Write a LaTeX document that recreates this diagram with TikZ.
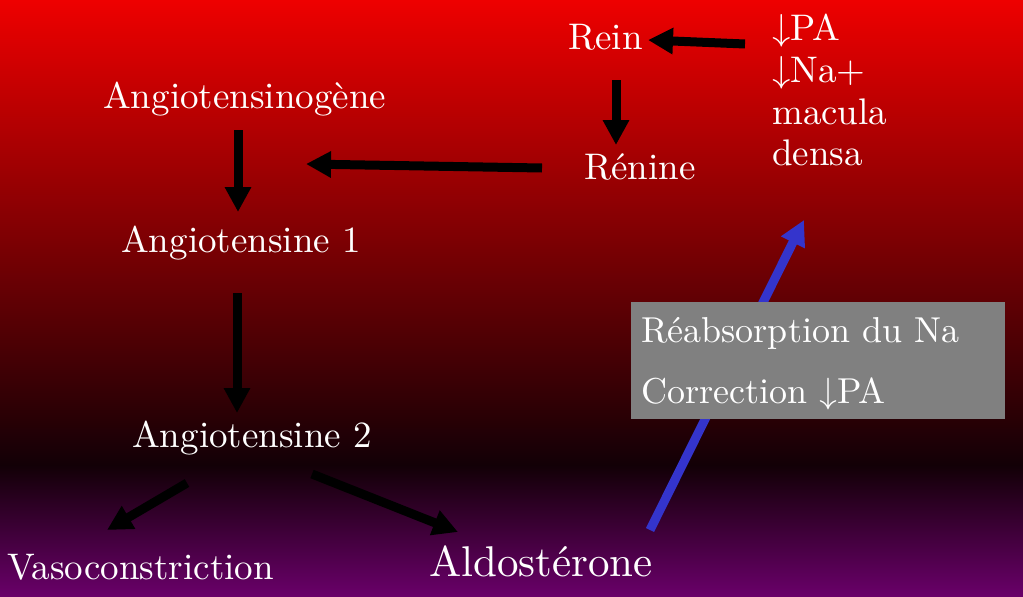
\documentclass[tikz,border=0pt]{standalone}
\usepackage{fontspec}
\usepackage{unicode-math}
\setmainfont{lmroman10-regular}[Extension=.otf]
\setmathfont{Latin Modern Math}
\usetikzlibrary{arrows.meta,calc}
\definecolor{topred}{RGB}{238,0,0}
\definecolor{midblack}{RGB}{18,0,6}
\definecolor{botpurple}{RGB}{106,0,106}
\definecolor{arrblue}{RGB}{52,52,204}
\definecolor{boxgray}{RGB}{128,128,128}
\tikzset{
  lbl/.style={text=white, anchor=base west, inner sep=0pt, font=\fontsize{37}{42}\selectfont},
  boxlbl/.style={lbl, font=\fontsize{36}{42}\selectfont},
  biglbl/.style={lbl, font=\fontsize{43}{50}\selectfont},
  arr/.style={line width=9pt, -{Triangle[length=25pt,width=25pt]}},
  blackarr/.style={arr, draw=black},
  bluearr/.style={arr, draw=arrblue},
  graybox/.style={fill=boxgray, draw=none, inner sep=0pt, minimum width=374pt, minimum height=117pt}
}
\begin{document}
\begin{tikzpicture}[x=1pt,y=-1pt]
\useasboundingbox (0,0) rectangle (1023,597);
\shade[top color=topred, bottom color=midblack] (0,0) rectangle (1023,466);
\shade[top color=midblack, bottom color=botpurple] (0,465) rectangle (1023,597);

% nodes
\node[lbl] (rein) at (568,49) {Rein};
\node[lbl] (pa) at (772,40) {$\downarrow$PA};
\node[lbl] (na) at (772,82) {$\downarrow$Na+};
\node[lbl] (mac) at (772,124) {macula};
\node[lbl] (den) at (772,165) {densa};
\node[lbl] (ren) at (584,179) {Rénine};
\node[lbl] (ag) at (103,108) {Angiotensinogène};
\node[lbl] (a1) at (121,252) {Angiotensine 1};
\node[lbl] (a2) at (132,447) {Angiotensine 2};
\node[lbl] (vaso) at (7,579) {Vasoconstriction};
\node[biglbl] (aldo) at (429,576) {Aldostérone};

% blue arrow behind the box
\draw[bluearr] ($(aldo.base west)+(221,-46)$) -- ($(den.base west)+(32,55)$);

\node[graybox] (box) at (818,360.5) {};
\node[boxlbl] (reab) at (641,342) {Réabsorption du Na};
\node[boxlbl] (corr) at (641,403) {Correction $\downarrow$PA};

% black arrows
\draw[blackarr] ($(pa.base west)+(-27,4)$) -- ($(rein.base west)+(80,-9)$);
\draw[blackarr] ($(rein.base west)+(48,31)$) -- ($(ren.base west)+(32,-34)$);
\draw[blackarr] ($(ren.base west)+(-42,-11)$) -- ($(ag.base west)+(203,56)$);
\draw[blackarr] ($(ag.base west)+(135,22)$) -- ($(a1.base west)+(117,-40)$);
\draw[blackarr] ($(a1.base west)+(116,41)$) -- ($(a2.base west)+(105,-34)$);
\draw[blackarr] ($(a2.base west)+(55,36)$) -- ($(vaso.base west)+(100,-49)$);
\draw[blackarr] ($(a2.base west)+(180,27)$) -- ($(aldo.base west)+(29,-44)$);
\end{tikzpicture}
\end{document}
